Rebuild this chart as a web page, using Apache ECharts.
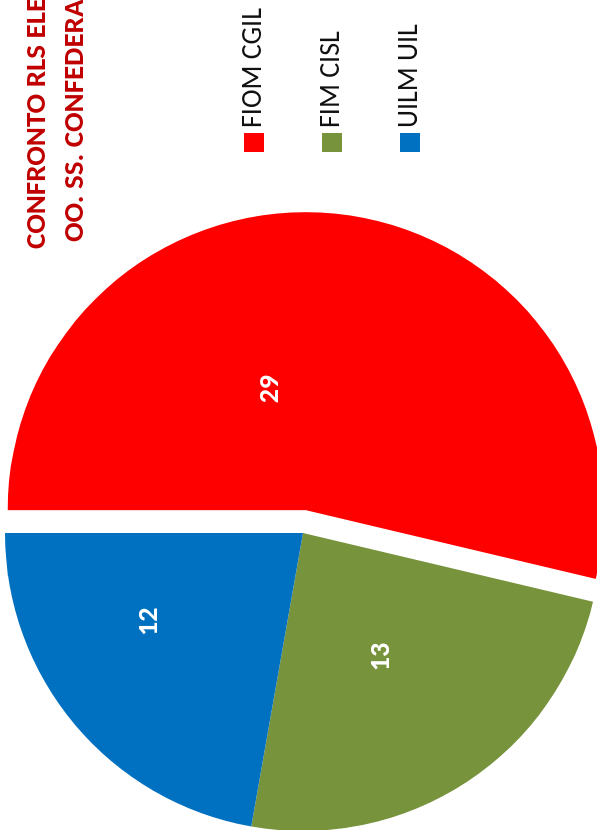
<!DOCTYPE html>
<html>
<head>
<meta charset="utf-8">
<script src="https://cdn.jsdelivr.net/npm/echarts@6/dist/echarts.min.js"></script>
<style>
  html, body { margin: 0; padding: 0; overflow: hidden; background: #fff; }
  /* chart is drawn upright, then turned a quarter to the left like the picture */
  #chart { position: absolute; left: 0; top: 0; width: 830px; height: 597px;
           transform-origin: 0 0; transform: translateY(830px) rotate(-90deg); }
</style>
</head>
<body>
<div id="chart"></div>
<script>
var names = ['FIOM CGIL', 'FIM CISL', 'UILM UIL'];
var values = [29, 13, 12];
var colors = ['#FF0000', '#77933C', '#0070C0'];
var titleLines = ['CONFRONTO RLS ELETTI', 'OO. SS. CONFEDERALI'];

// nudges for the value labels, so they sit where the original put them
var labelShift = [[-30, -52], [3, -5], [9, -37]];

var font = 'Carlito, "Liberation Sans Narrow", "Noto Sans", sans-serif';

var pieData = names.map(function (n, i) {
  return {
    name: n, value: values[i], selected: i === 0,
    itemStyle: { color: colors[i] },
    label: { offset: labelShift[i] },
    select: { label: { offset: labelShift[i] } }
  };
});

var chart = echarts.init(document.getElementById('chart'));
var option = {
  backgroundColor: '#fff',
  animation: false,
  title: [
    { text: titleLines[0], left: 581, top: 23, padding: 0,
      textStyle: { fontFamily: font, fontSize: 29, fontWeight: 'bold', color: '#C00000' } },
    { text: titleLines[1], left: 588, top: 61, padding: 0,
      textStyle: { fontFamily: font, fontSize: 29, fontWeight: 'bold', color: '#C00000' } }
  ],
  legend: {
    orient: 'vertical', left: 678, top: 240, padding: 0,
    itemWidth: 19, itemHeight: 20, itemGap: 50, icon: 'rect',
    textStyle: { fontFamily: font, fontSize: 28, color: '#111', padding: [0, 0, 0, 0] },
    data: names
  },
  series: [{
    type: 'pie',
    center: [297, 303],
    radius: 298,
    startAngle: 90,
    clockwise: true,
    selectedMode: 'single',
    selectedOffset: 23,
    silent: true,
    label: { show: true, position: 'inside', formatter: '{c}',
             fontFamily: font, fontSize: 28, fontWeight: 'bold', color: '#fff' },
    labelLine: { show: false },
    data: pieData
  }]
};
chart.setOption(option);
</script>
</body>
</html>
